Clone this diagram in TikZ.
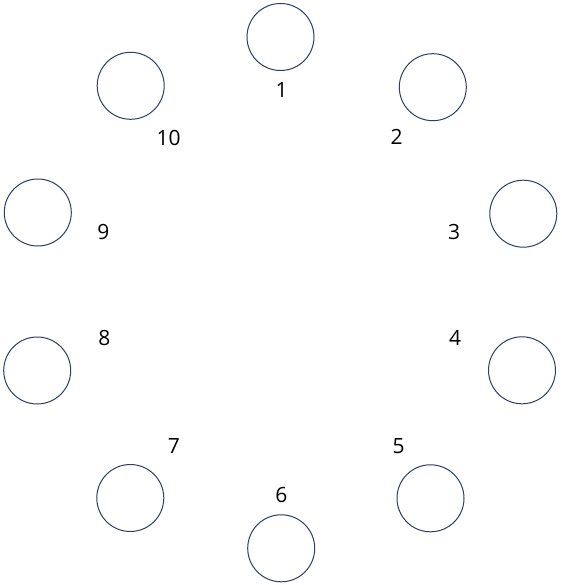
\documentclass[tikz,border=0pt]{standalone}
\usepackage{fontspec}
\setmainfont{Open Sans}
\definecolor{ringc}{RGB}{47,62,105}
\begin{document}
\begin{tikzpicture}[x=1pt,y=-1pt,
  ring/.style={circle,draw=ringc,line width=1pt,minimum size=67pt,inner sep=0pt},
  lbl/.style={font=\fontsize{21}{24}\selectfont,text=black,inner sep=0pt}]
\useasboundingbox (0,0) rectangle (561,585);
\fill[white] (0,0) rectangle (561,585);
\node[ring] (c1) at (280.5,37) {};
\node[ring] (c2) at (432.8,87.2) {};
\node[ring] (c3) at (523.3,213.7) {};
\node[ring] (c4) at (522,370.3) {};
\node[ring] (c5) at (430.5,498.3) {};
\node[ring] (c6) at (281.2,548.3) {};
\node[ring] (c7) at (130.3,498) {};
\node[ring] (c8) at (37.2,370.5) {};
\node[ring] (c9) at (37.8,212.5) {};
\node[ring] (c10) at (130.7,85.8) {};
\node[lbl] (l1) at (281.7,89.7) {1};
\node[lbl] (l2) at (396.7,137) {2};
\node[lbl] (l3) at (454,232) {3};
\node[lbl] (l4) at (455,337.7) {4};
\node[lbl] (l5) at (398.7,446) {5};
\node[lbl] (l6) at (281.3,494.7) {6};
\node[lbl] (l7) at (173.8,446) {7};
\node[lbl] (l8) at (104.5,337.7) {8};
\node[lbl] (l9) at (103.3,232) {9};
\node[lbl] (l10) at (168.7,138.3) {10};
\end{tikzpicture}
\end{document}
